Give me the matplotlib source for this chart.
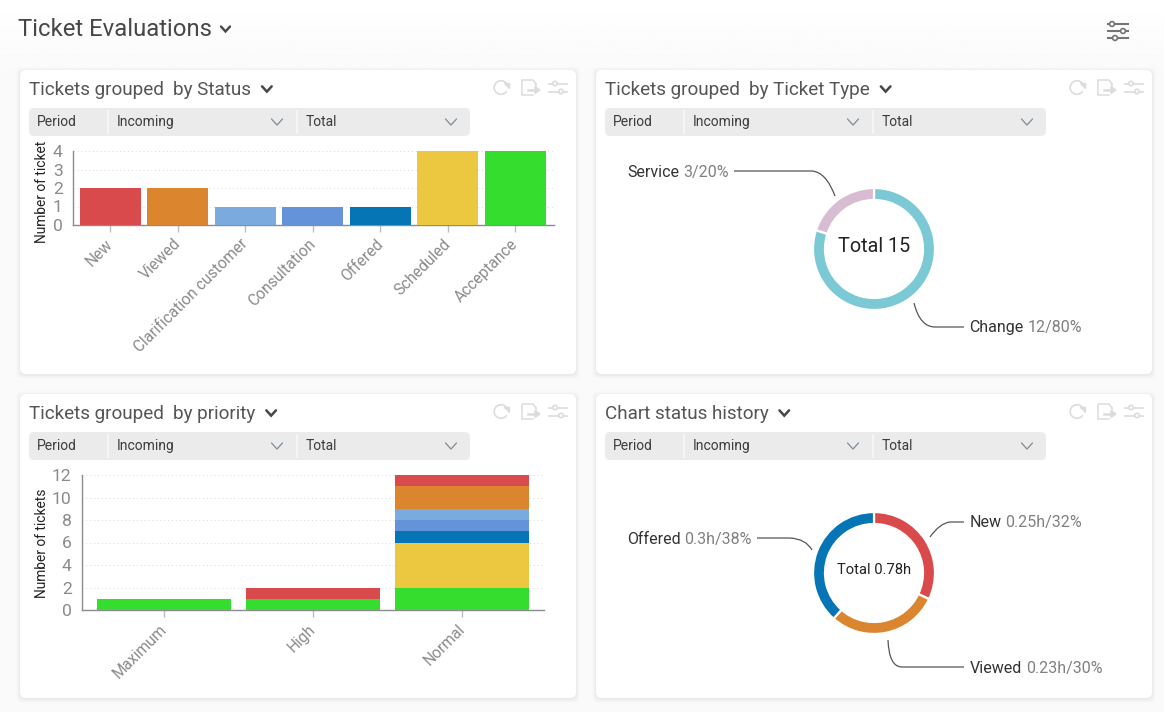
import numpy as np
import matplotlib
matplotlib.use("Agg")
import matplotlib.pyplot as plt
from matplotlib.patches import FancyBboxPatch, Rectangle, PathPatch, Circle
from matplotlib.path import Path
from matplotlib.transforms import ScaledTranslation

plt.rcParams['font.family'] = ['Roboto', 'DejaVu Sans']

W, H = 1164, 712

# ---------- data ----------
status_names = ["New", "Viewed", "Clarification customer", "Consultation", "Offered", "Scheduled", "Acceptance"]
status_counts = [2, 2, 1, 1, 1, 4, 4]
status_colors = ["#d94a4c", "#db852f", "#7aaade", "#6493d9", "#0575b6", "#ecc740", "#35de2e"]

type_names = ["Change", "Service"]
type_counts = [12, 3]
type_colors = ["#7bc9d4", "#d8bcd2"]

priority_names = ["Maximum", "High", "Normal"]
stack_order = ["Acceptance", "Scheduled", "Offered", "Consultation", "Clarification customer", "Viewed", "New"]
priority_stack = {
    "Acceptance": [1, 1, 2],
    "Scheduled": [0, 0, 4],
    "Offered": [0, 0, 1],
    "Consultation": [0, 0, 1],
    "Clarification customer": [0, 0, 1],
    "Viewed": [0, 0, 2],
    "New": [0, 1, 1],
}

history_names = ["New", "Viewed", "Offered"]
history_hours = [0.25, 0.23, 0.30]
history_colors = ["#d94a4c", "#db852f", "#0575b6"]

cards = [(20, 70), (596, 70), (20, 394), (596, 394)]
card_titles = [("Tickets grouped", "by Status"), ("Tickets grouped", "by Ticket Type"),
               ("Tickets grouped", "by priority"), ("Chart status history", "")]

GREY = "#8a8a8a"
DARK = "#474747"


def px_axes(x0, y0, x1, y1, **kw):
    return fig.add_axes([x0 / W, 1 - y1 / H, (x1 - x0) / W, (y1 - y0) / H], **kw)


fig = plt.figure(figsize=(W / 100, H / 100), dpi=100)
fig.patch.set_facecolor("#fafafa")

bg = fig.add_axes([0, 0, 1, 1], zorder=0)
bg.axis("off")
bg.imshow(np.linspace(1.0, 0.98, 60).reshape(-1, 1), cmap="gray", vmin=0, vmax=1,
          extent=(0, W, 70, 0), aspect="auto", zorder=0)
bg.set_xlim(0, W)
bg.set_ylim(H, 0)


def chevron(a, x, y, s=4.5, color=DARK, lw=1.8):
    a.plot([x - s, x, x + s], [y - s * 0.55, y + s * 0.55, y - s * 0.55], color=color, lw=lw,
           solid_capstyle="round", solid_joinstyle="miter", zorder=5)


def sliders(a, x, y, color, w=20, lw=1.4, r=2.6, offs=(-5, 5), knobs=(-3, 4)):
    for dy, k in zip(offs, knobs):
        a.plot([x, x + w], [y + dy, y + dy], color=color, lw=lw, zorder=5)
        a.add_patch(Circle((x + w / 2 + k, y + dy), r, fc="white", ec=color, lw=lw, zorder=6))


def right_end(t):
    return t.get_window_extent(fig.canvas.get_renderer()).x1 * W / fig.bbox.width


bg.text(18, 36, "Ticket Evaluations", fontsize=17.2, color=DARK, va="baseline", ha="left")
chevron(bg, 225.5, 29, s=4.5, lw=1.7)

# global settings icon
for yy, kx in zip((24, 31, 38), (1112, 1123, 1115)):
    bg.plot([1108, 1128], [yy, yy], color="#757575", lw=1.5, zorder=5)
    bg.add_patch(Circle((kx, yy), 2.4, fc="white", ec="#757575", lw=1.2, zorder=6))

for (cx, cy), (t1, t2) in zip(cards, card_titles):
    for grow, alpha in ((4, 0.008), (3, 0.012), (2, 0.016), (1, 0.022)):
        bg.add_patch(FancyBboxPatch((cx - grow, cy - grow + 1), 556 + 2 * grow, 304 + 2 * grow,
                                    boxstyle="round,pad=0,rounding_size=6", fc="black", ec="none",
                                    alpha=alpha, zorder=1))
    bg.add_patch(FancyBboxPatch((cx, cy), 556, 304, boxstyle="round,pad=0,rounding_size=6",
                                fc="white", ec="none", zorder=2))
    t = bg.text(cx + 9, cy + 25, t1, fontsize=13.55, color="#555555", va="baseline", ha="left", zorder=5)
    end = right_end(t)
    if t2:
        t = bg.text(end + 9.5, cy + 25, t2, fontsize=13.55, color="#555555", va="baseline", ha="left", zorder=5)
        end = right_end(t)
    chevron(bg, end + 15.5, cy + 19, s=4.8, lw=1.8)

    # filter bar
    bg.add_patch(FancyBboxPatch((cx + 9, cy + 38), 441, 28, boxstyle="round,pad=0,rounding_size=5",
                                fc="#ebebeb", ec="none", zorder=3))
    for sx in (cx + 88, cx + 277):
        bg.plot([sx, sx], [cy + 41, cy + 63], color="#f6f6f6", lw=1.4, zorder=4)
    for lab, lx in (("Period", cx + 17), ("Incoming", cx + 97), ("Total", cx + 286)):
        bg.text(lx, cy + 56.3, lab, fontsize=10, color="#3c3c3c", va="baseline", ha="left", zorder=5)
    for ax_ in (cx + 257, cx + 431):
        chevron(bg, ax_, cy + 52, s=5.5, color="#7d8a94", lw=0.9)

    # header icons
    ic = "#dcdcdc"
    th = np.radians(np.linspace(35, 320, 40))
    bg.plot(cx + 481 + 6.8 * np.cos(th), cy + 17.5 - 6.8 * np.sin(th), color=ic, lw=1.2, zorder=5)
    bg.fill([cx + 484, cx + 489, cx + 489], [cy + 13, cy + 13, cy + 18], color=ic, zorder=5)
    bg.plot([cx + 513, cx + 502, cx + 502, cx + 513, cx + 516],
            [cy + 25, cy + 25, cy + 10, cy + 10, cy + 14], color=ic, lw=1.1, zorder=5)
    bg.plot([cx + 516, cx + 516], [cy + 14, cy + 16], color=ic, lw=1.1, zorder=5)
    bg.plot([cx + 508, cx + 516], [cy + 20, cy + 20], color=ic, lw=1.8, zorder=5)
    bg.fill([cx + 515, cx + 520, cx + 515], [cy + 16.5, cy + 20, cy + 23.5], color=ic, zorder=5)
    sliders(bg, cx + 529, cy + 17.5, ic, w=18, lw=1.2, r=2.2, offs=(-4, 4), knobs=(-3, 3))


def style_bar_axes(a, yticks):
    for s in ("top", "right"):
        a.spines[s].set_visible(False)
    for s in ("left", "bottom"):
        a.spines[s].set_color("#8c8c8c")
        a.spines[s].set_linewidth(1.0)
    a.set_yticks(yticks)
    a.tick_params(axis="y", length=0, labelsize=12.6, labelcolor=GREY, pad=7.5)
    a.tick_params(axis="x", length=5, width=1, color="#bdbdbd", labelsize=11.2, labelcolor=GREY, pad=6)
    a.grid(axis="y", color="#d9d9d9", lw=0.7, ls=(0, (1, 3)))
    a.set_axisbelow(True)
    a.patch.set_alpha(0)


def rotate(a):
    shift = ScaledTranslation(-5 / 100, 4 / 100, fig.dpi_scale_trans)
    for lab in a.get_xticklabels():
        lab.set_rotation(45)
        lab.set_ha("right")
        lab.set_rotation_mode("anchor")
        lab.set_transform(lab.get_transform() + shift)


# ---------- by status ----------
a1 = px_axes(73, 151, 554, 225, zorder=3)
pos = np.arange(len(status_names))
a1.bar(pos, status_counts, width=61 / 67.5, color=status_colors, zorder=3)
a1.set_xlim(-37.3 / 67.5, (554 - 110.3) / 67.5)
a1.set_ylim(0, 4)
style_bar_axes(a1, [0, 1, 2, 3, 4])
a1.set_xticks(pos, status_names)
rotate(a1)
ylab1 = bg.text(42, 188.5, "Number of tickets", rotation=90, fontsize=9.9, color="#222222",
                ha="center", va="center", zorder=7)
ylab1.set_clip_path(Rectangle((0, 141), 100, 120, transform=bg.transData))
ylab1.set_clip_on(True)

# ---------- by priority ----------
a3 = px_axes(82, 475, 544, 610, zorder=3)
pos3 = np.arange(len(priority_names))
bottom = np.zeros(len(priority_names))
cmap = dict(zip(status_names, status_colors))
for name in stack_order:
    vals = np.array(priority_stack[name])
    a3.bar(pos3, vals, width=134 / 149, bottom=bottom, color=cmap[name], zorder=3)
    bottom += vals
a3.set_xlim(-(164 - 82) / 149, (544 - 164) / 149)
a3.set_ylim(0, 12)
style_bar_axes(a3, [0, 2, 4, 6, 8, 10, 12])
a3.set_xticks(pos3, priority_names)
rotate(a3)
bg.text(42, 543, "Number of tickets", rotation=90, fontsize=9.9, color="#222222",
        ha="center", va="center", zorder=7)


# ---------- donuts ----------
def donut(cx, cy, values, colors, center_text, fs):
    a = px_axes(cx - 66, cy - 66, cx + 66, cy + 66, zorder=3)
    a.pie(values, colors=colors, startangle=90, counterclock=False, radius=61,
          wedgeprops=dict(width=12, edgecolor="white", linewidth=1.6))
    a.set_xlim(-66, 66)
    a.set_ylim(-66, 66)
    a.text(0, 3 if fs > 11 else 3, center_text, ha="center", va="center", fontsize=fs, color="#222222")
    a.patch.set_alpha(0)


donut(874, 249, type_counts, type_colors, "Total 15", 14.2)
donut(874, 573, history_hours, history_colors, "Total 0.78h", 10.6)


def leader(p0, p1, ctrl, p2):
    verts = [p0, p1, ctrl, p2]
    codes = [Path.MOVETO, Path.LINETO, Path.CURVE3, Path.CURVE3]
    bg.add_patch(PathPatch(Path(verts, codes), fc="none", ec="#555555", lw=0.9, zorder=5))


def label(x, y, a_txt, b_txt, ha="left"):
    if ha == "left":
        t = bg.text(x, y, a_txt, fontsize=11.5, color="#333333", va="baseline", ha="left", zorder=6)
        bg.text(right_end(t) + 3.5, y, b_txt, fontsize=11.5, color="#808080", va="baseline", ha="left", zorder=6)
    else:
        t = bg.text(x, y, b_txt, fontsize=11.5, color="#808080", va="baseline", ha="right", zorder=6)
        start = t.get_window_extent(fig.canvas.get_renderer()).x0 * W / fig.bbox.width
        bg.text(start - 4, y, a_txt, fontsize=11.5, color="#333333", va="baseline", ha="right", zorder=6)


leader((734, 171), (812, 171), (826, 172), (835, 196))
leader((964, 327), (935, 327), (920, 327), (914, 303))
leader((757, 538), (790, 538), (806, 539), (812, 550))
leader((964, 522), (950, 522), (940, 523), (930, 537))
leader((964, 667), (902, 667), (889, 667), (888, 640))

label(729, 177, "Service", "3/20%", ha="right")
label(969.5, 332, "Change", "12/80%")
label(752, 544, "Offered", "0.3h/38%", ha="right")
label(970, 527, "New", "0.25h/32%")
label(970, 673, "Viewed", "0.23h/30%")

fig.savefig("out.png", dpi=100, facecolor=fig.get_facecolor())
